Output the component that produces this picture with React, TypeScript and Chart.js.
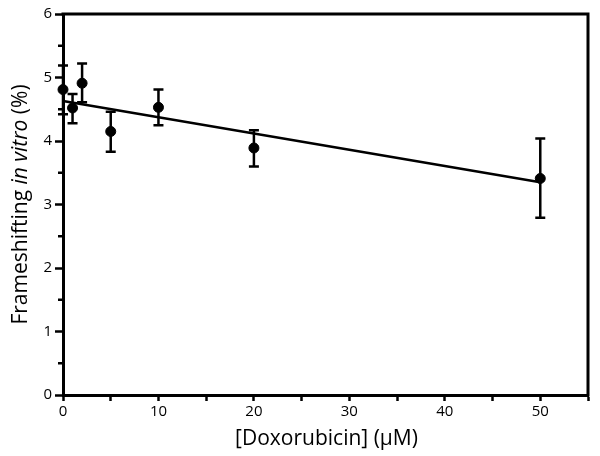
import React, { useEffect, useRef } from 'react';
import { Chart, registerables } from 'chart.js';

Chart.register(...registerables);

// Data
const doses = [0, 1, 2, 5, 10, 20, 50];
const means = [4.81, 4.52, 4.91, 4.15, 4.53, 3.89, 3.41];
const errLow = [4.42, 4.28, 4.61, 3.83, 4.25, 3.6, 2.79];
const errHigh = [5.19, 4.74, 5.22, 4.46, 4.81, 4.17, 4.04];
const fitX = [0, 50];
const fitY = [4.63, 3.35];
const yMinorTicks = [0.5, 1.5, 2.5, 3.5, 4.5, 5.5];

const FONT = '"Open Sans", "DejaVu Sans", sans-serif';

const customPlugin = {
  id: 'custom',
  beforeDatasetsDraw(chart: any) {
    const { ctx, scales } = chart;
    const x = scales.x;
    const y = scales.y;
    ctx.save();
    ctx.strokeStyle = '#000';
    ctx.lineWidth = 2.5;
    for (let i = 0; i < doses.length; i++) {
      const px = x.getPixelForValue(doses[i]);
      const yl = y.getPixelForValue(errLow[i]);
      const yh = y.getPixelForValue(errHigh[i]);
      ctx.beginPath();
      ctx.moveTo(px, yl);
      ctx.lineTo(px, yh);
      ctx.moveTo(px - 5, yl);
      ctx.lineTo(px + 5, yl);
      ctx.moveTo(px - 5, yh);
      ctx.lineTo(px + 5, yh);
      ctx.stroke();
    }
    ctx.restore();
  },
  afterDraw(chart: any) {
    const { ctx, chartArea, scales } = chart;
    const y = scales.y;
    ctx.save();
    ctx.strokeStyle = '#000';
    ctx.lineWidth = 3;
    // frame top and right
    ctx.beginPath();
    ctx.moveTo(chartArea.left - 1.5, chartArea.top);
    ctx.lineTo(chartArea.right, chartArea.top);
    ctx.lineTo(chartArea.right, chartArea.bottom + 1.5);
    ctx.stroke();
    // minor y ticks
    ctx.lineWidth = 2.5;
    for (const v of yMinorTicks) {
      const py = y.getPixelForValue(v);
      ctx.beginPath();
      ctx.moveTo(chartArea.left, py);
      ctx.lineTo(chartArea.left - 5, py);
      ctx.stroke();
    }
    // y title with italic part
    ctx.fillStyle = '#000';
    ctx.translate(21, (chartArea.top + chartArea.bottom) / 2);
    ctx.rotate(-Math.PI / 2);
    const parts = [
      { t: 'Frameshifting ', f: `21px ${FONT}` },
      { t: 'in vitro', f: `italic 21px ${FONT}` },
      { t: ' (%)', f: `21px ${FONT}` },
    ];
    let total = 0;
    for (const p of parts) {
      ctx.font = p.f;
      total += ctx.measureText(p.t).width;
    }
    let cx = -total / 2;
    ctx.textBaseline = 'middle';
    ctx.textAlign = 'left';
    for (const p of parts) {
      ctx.font = p.f;
      ctx.fillText(p.t, cx, 0);
      cx += ctx.measureText(p.t).width;
    }
    ctx.restore();
    // x title
    ctx.save();
    ctx.fillStyle = '#000';
    ctx.font = `21px ${FONT}`;
    ctx.textAlign = 'center';
    ctx.textBaseline = 'middle';
    ctx.fillText('[Doxorubicin] (\u00B5M)', (chartArea.left + chartArea.right) / 2 + 1, 439);
    ctx.restore();
  },
};

export default function App() {
  const ref = useRef<HTMLCanvasElement>(null);
  useEffect(() => {
    if (!ref.current) return;
    const chart = new Chart(ref.current, {
      type: 'scatter',
      data: {
        datasets: [
          {
            type: 'line',
            data: fitX.map((v, i) => ({ x: v, y: fitY[i] })),
            borderColor: '#000',
            borderWidth: 2.5,
            pointRadius: 0,
            fill: false,
            clip: false,
          } as any,
          {
            data: doses.map((v, i) => ({ x: v, y: means[i] })),
            backgroundColor: '#000',
            borderColor: '#000',
            pointRadius: 5,
            pointHoverRadius: 5,
            clip: false,
          } as any,
        ],
      },
      options: {
        responsive: false,
        animation: false,
        devicePixelRatio: 1,
        layout: { padding: { left: 0, top: 14, right: 12, bottom: 0 } },
        plugins: { legend: { display: false }, tooltip: { enabled: false }, title: { display: false } },
        scales: {
          x: {
            type: 'linear',
            min: 0,
            max: 55,
            afterFit: (s: any) => { s.height = 61; },
            ticks: {
              stepSize: 5,
              autoSkip: false,
              maxRotation: 0,
              padding: 2,
              color: '#000',
              font: { family: FONT, size: 15 },
              callback: (v: any) => (v % 10 === 0 && v <= 50 ? String(v) : ''),
            },
            grid: { drawOnChartArea: false, drawTicks: true, tickLength: 6, tickColor: '#000', tickWidth: 2.5 },
            border: { color: '#000', width: 3 },
          },
          y: {
            min: 0,
            max: 6,
            afterFit: (s: any) => { s.width = 63; },
            ticks: {
              stepSize: 1,
              padding: 3,
              color: '#000',
              font: { family: FONT, size: 15 },
            },
            grid: { drawOnChartArea: false, drawTicks: true, tickLength: 8, tickColor: '#000', tickWidth: 2.5 },
            border: { color: '#000', width: 3 },
          },
        },
      },
      plugins: [customPlugin],
    });
    return () => chart.destroy();
  }, []);
  return (
    <div style={{ position: 'absolute', left: 0, top: 0, width: 600, height: 456, background: '#fff' }}>
      <canvas ref={ref} width={600} height={456} />
    </div>
  );
}
